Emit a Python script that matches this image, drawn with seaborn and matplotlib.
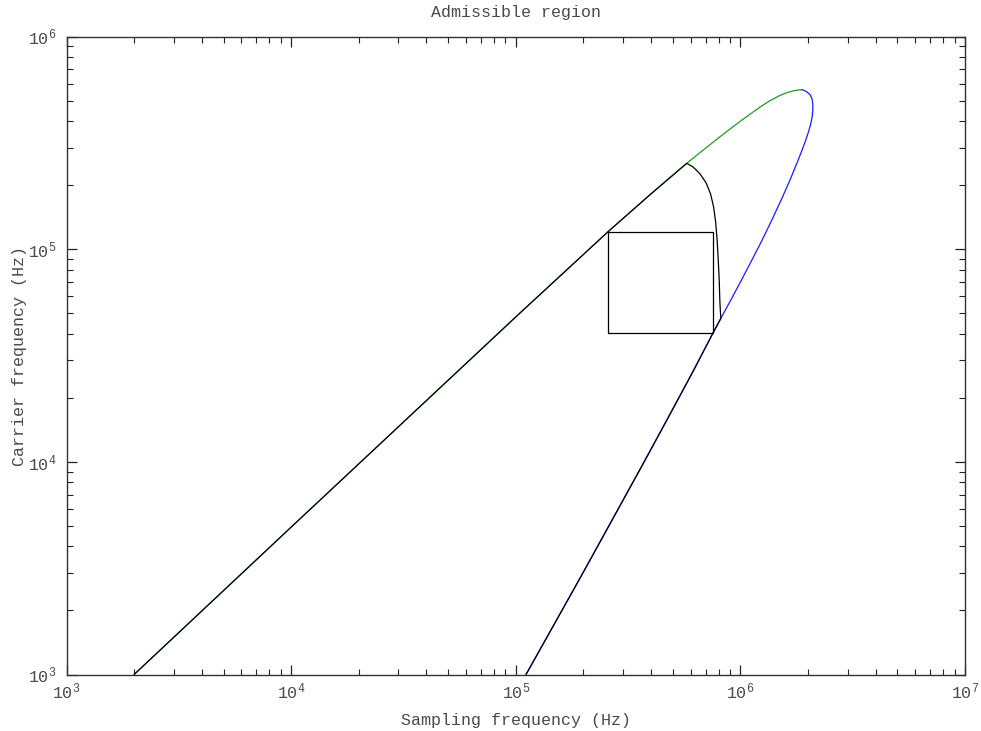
import numpy as np
import pandas as pd
import matplotlib
matplotlib.use("Agg")
import matplotlib.pyplot as plt
import seaborn as sns

# ---- data (Hz) ----
# upper boundary (green): sampling freq, carrier freq
green_fs = [2.0e3, 1.0e4, 1.0e5, 2.58e5, 4.0e5, 5.77e5, 6.84e5, 8.12e5, 9.97e5,
            1.224e6, 1.356e6, 1.502e6, 1.614e6, 1.717e6, 1.807e6, 1.877e6]
green_fc = [1.0e3, 4.93e3, 4.80e4, 1.21e5, 1.82e5, 2.534e5, 2.927e5, 3.38e5, 3.99e5,
            4.66e5, 4.995e5, 5.285e5, 5.447e5, 5.548e5, 5.603e5, 5.621e5]

# lower / right boundary (blue)
blue_fs = [1.877e6, 1.912e6, 1.980e6, 2.048e6, 2.086e6, 2.101e6, 2.101e6, 2.090e6,
           2.062e6, 2.016e6, 1.956e6, 1.883e6, 1.809e6, 1.664e6, 1.519e6, 1.381e6,
           1.251e6, 1.126e6, 1.012e6, 9.07e5, 8.19e5, 7.54e5, 6.2e5, 5.0e5,
           3.73e5, 2.8e5, 2.0e5, 1.5e5, 1.111e5]
blue_fc = [5.621e5, 5.590e5, 5.484e5, 5.309e5, 5.084e5, 4.815e5, 4.512e5, 4.229e5,
           3.921e5, 3.595e5, 3.262e5, 2.927e5, 2.627e5, 2.115e5, 1.703e5, 1.372e5,
           1.105e5, 8.90e4, 7.17e4, 5.77e4, 4.73e4, 4.02e4, 2.70e4, 1.77e4,
           1.0e4, 5.77e3, 3.03e3, 1.76e3, 1.0e3]

# black admissible-region contour
black_fs = [2.0e3, 1.0e4, 1.0e5, 2.58e5, 4.0e5, 5.77e5, 6.16e5, 6.62e5, 7.04e5,
            7.37e5, 7.60e5, 7.76e5, 7.88e5, 7.97e5, 8.05e5, 8.10e5, 8.14e5, 8.19e5,
            7.54e5, 6.2e5, 5.0e5, 3.73e5, 2.8e5, 2.0e5, 1.5e5, 1.111e5]
black_fc = [1.0e3, 4.93e3, 4.80e4, 1.21e5, 1.82e5, 2.534e5, 2.435e5, 2.257e5, 2.048e5,
            1.818e5, 1.579e5, 1.343e5, 1.105e5, 8.90e4, 7.17e4, 5.77e4, 5.18e4, 4.73e4,
            4.02e4, 2.70e4, 1.77e4, 1.0e4, 5.77e3, 3.03e3, 1.76e3, 1.0e3]

# design box
box_fs = [2.58e5, 7.54e5, 7.54e5, 2.58e5, 2.58e5]
box_fc = [4.02e4, 4.02e4, 1.209e5, 1.209e5, 4.02e4]

title = "Admissible region"
xlabel = "Sampling frequency (Hz)"
ylabel = "Carrier frequency (Hz)"

# ---- style ----
sns.set_style("white")
plt.rcParams["font.family"] = ["Liberation Mono", "DejaVu Sans Mono"]
plt.rcParams["mathtext.fontset"] = "custom"
plt.rcParams["mathtext.rm"] = "Liberation Mono"
plt.rcParams["mathtext.it"] = "Liberation Mono"

fig = plt.figure(figsize=(9.81, 7.31), dpi=100)
ax = fig.add_axes([66.5 / 981, 1 - 674.5 / 731, (965 - 66.5) / 981, (674.5 - 36.5) / 731])

lw = 0.9
sns.lineplot(x=green_fs, y=green_fc, sort=False, estimator=None, color="#1e9b1e", lw=lw, ax=ax)
sns.lineplot(x=blue_fs, y=blue_fc, sort=False, estimator=None, color="#1a1aff", lw=lw, ax=ax)
sns.lineplot(x=black_fs, y=black_fc, sort=False, estimator=None, color="black", lw=lw, ax=ax)
sns.lineplot(x=box_fs, y=box_fc, sort=False, estimator=None, color="black", lw=lw, ax=ax)

ax.set_xscale("log")
ax.set_yscale("log")
ax.set_xlim(1e3, 1e7)
ax.set_ylim(1e3, 1e6)

tick_col = "#4a4a4a"
ax.tick_params(which="both", direction="in", top=True, right=True, bottom=True, left=True,
               colors="#222222", labelcolor=tick_col, labelsize=12)
ax.tick_params(which="major", length=7, width=0.9)
ax.tick_params(which="minor", length=4, width=0.8)
ax.tick_params(axis="x", which="major", pad=5)
ax.tick_params(axis="y", which="major", pad=7)
for s in ax.spines.values():
    s.set_color("#333333")
    s.set_linewidth(1.0)

ax.set_title(title, fontsize=12, color=tick_col, pad=14)
ax.set_xlabel(xlabel, fontsize=12, color=tick_col, labelpad=8)
ax.set_ylabel(ylabel, fontsize=12, color=tick_col, labelpad=1)

fig.savefig("out.png", dpi=100)
